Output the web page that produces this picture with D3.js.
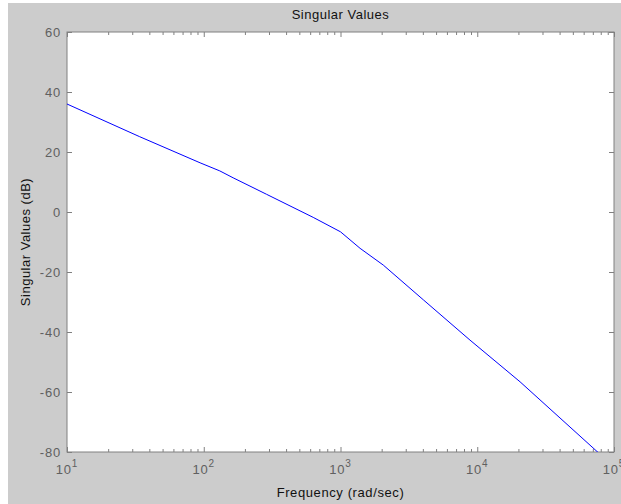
<!DOCTYPE html>
<html>
<head>
<meta charset="utf-8">
<script src="https://cdn.jsdelivr.net/npm/d3@7"></script>
<style>
  body { margin: 0; background: #fff; }
  text { font-family: "Liberation Sans", Arial, sans-serif; }
</style>
</head>
<body>
<div id="chart"></div>
<script>
// singular value curve (rad/sec, dB)
var freq = [10, 34, 94, 131, 164, 288, 632, 1000, 1390, 2056, 4040, 8850, 20560, 76700, 80000];
var sv   = [36, 25.1, 16.4, 13.7, 11.4, 5.9, -1.8, -6.6, -12.1, -17.7, -29.3, -42.7, -56.6, -80.2, -81.5];

var yTicks = [-80, -60, -40, -20, 0, 20, 40, 60];
var xDecades = [1, 2, 3, 4, 5];

var W = 621, H = 504;
var margin = { top: 32, right: 7, bottom: 52, left: 67 },
    width = W - margin.left - margin.right,
    height = H - margin.top - margin.bottom;

var svg = d3.select("#chart")
    .append("svg")
    .attr("width", W)
    .attr("height", H);

// figure background
svg.append("rect")
    .attr("x", 8).attr("y", 3)
    .attr("width", W - 8).attr("height", H - 3)
    .attr("fill", "#cccccc");

var g = svg.append("g")
    .attr("transform", "translate(" + margin.left + "," + margin.top + ")");

var x = d3.scaleLog().domain([10, 1e5]).range([0, width]);
var y = d3.scaleLinear().domain([-80, 60]).range([height, 0]);

g.append("rect")
    .attr("width", width).attr("height", height)
    .attr("fill", "#fff");

// minor ticks for the log axis
var minors = [];
xDecades.slice(0, -1).forEach(function (p) {
    for (var k = 2; k <= 9; k++) minors.push(k * Math.pow(10, p));
});
var majors = xDecades.map(function (p) { return Math.pow(10, p); });

function styleAxis(sel) {
    sel.select(".domain").remove();
    sel.selectAll("line").attr("stroke", "#808080");
    sel.selectAll("text").remove();
}

g.append("g").attr("transform", "translate(0," + height + ")")
    .call(d3.axisBottom(x).tickValues(majors).tickSize(-5)).call(styleAxis);
g.append("g").attr("transform", "translate(0," + height + ")")
    .call(d3.axisBottom(x).tickValues(minors).tickSize(-3)).call(styleAxis);
g.append("g")
    .call(d3.axisTop(x).tickValues(majors).tickSize(-5)).call(styleAxis);
g.append("g")
    .call(d3.axisTop(x).tickValues(minors).tickSize(-3)).call(styleAxis);
g.append("g")
    .call(d3.axisLeft(y).tickValues(yTicks).tickSize(-5)).call(styleAxis);
g.append("g").attr("transform", "translate(" + width + ",0)")
    .call(d3.axisRight(y).tickValues(yTicks).tickSize(-5)).call(styleAxis);

// box
g.append("rect")
    .attr("width", width).attr("height", height)
    .attr("fill", "none")
    .attr("stroke", "#808080")
    .attr("stroke-width", 1);

// y tick labels
g.selectAll(".ylab")
    .data(yTicks)
    .enter()
    .append("text")
    .attr("x", -6)
    .attr("y", function (d) { return y(d); })
    .attr("dy", "0.35em")
    .attr("text-anchor", "end")
    .attr("fill", "#606060")
    .style("font-size", "13px")
    .style("letter-spacing", "0.8px")
    .text(function (d) { return d; });

// x tick labels (10^p)
var xl = g.selectAll(".xlab")
    .data(xDecades)
    .enter()
    .append("text")
    .attr("x", function (d) { return x(Math.pow(10, d)); })
    .attr("y", height + 22)
    .attr("text-anchor", "middle")
    .attr("fill", "#606060")
    .style("font-size", "13px")
    .style("letter-spacing", "0.8px");
xl.append("tspan").text("10");
xl.append("tspan").attr("dy", -7).style("font-size", "10px").text(function (d) { return d; });

// line
g.append("clipPath").attr("id", "clip")
    .append("rect").attr("width", width).attr("height", height);

var pts = freq.map(function (f, i) { return [f, sv[i]]; });
g.append("path")
    .datum(pts)
    .attr("clip-path", "url(#clip)")
    .attr("fill", "none")
    .attr("stroke", "#0000ff")
    .attr("stroke-width", 1)
    .attr("d", d3.line()
        .x(function (d) { return x(d[0]); })
        .y(function (d) { return y(d[1]); }));

// titles
svg.append("text")
    .attr("x", margin.left + width / 2)
    .attr("y", 19)
    .attr("text-anchor", "middle")
    .attr("fill", "#111")
    .style("font-size", "13px")
    .style("letter-spacing", "0.5px")
    .text("Singular Values");

svg.append("text")
    .attr("x", margin.left + width / 2)
    .attr("y", 497)
    .attr("text-anchor", "middle")
    .attr("fill", "#111")
    .style("font-size", "13px")
    .style("letter-spacing", "0.6px")
    .text("Frequency (rad/sec)");

svg.append("text")
    .attr("transform", "translate(30," + (margin.top + height / 2) + ") rotate(-90)")
    .attr("text-anchor", "middle")
    .attr("fill", "#111")
    .style("font-size", "13px")
    .style("letter-spacing", "0.5px")
    .text("Singular Values (dB)");
</script>
</body>
</html>
